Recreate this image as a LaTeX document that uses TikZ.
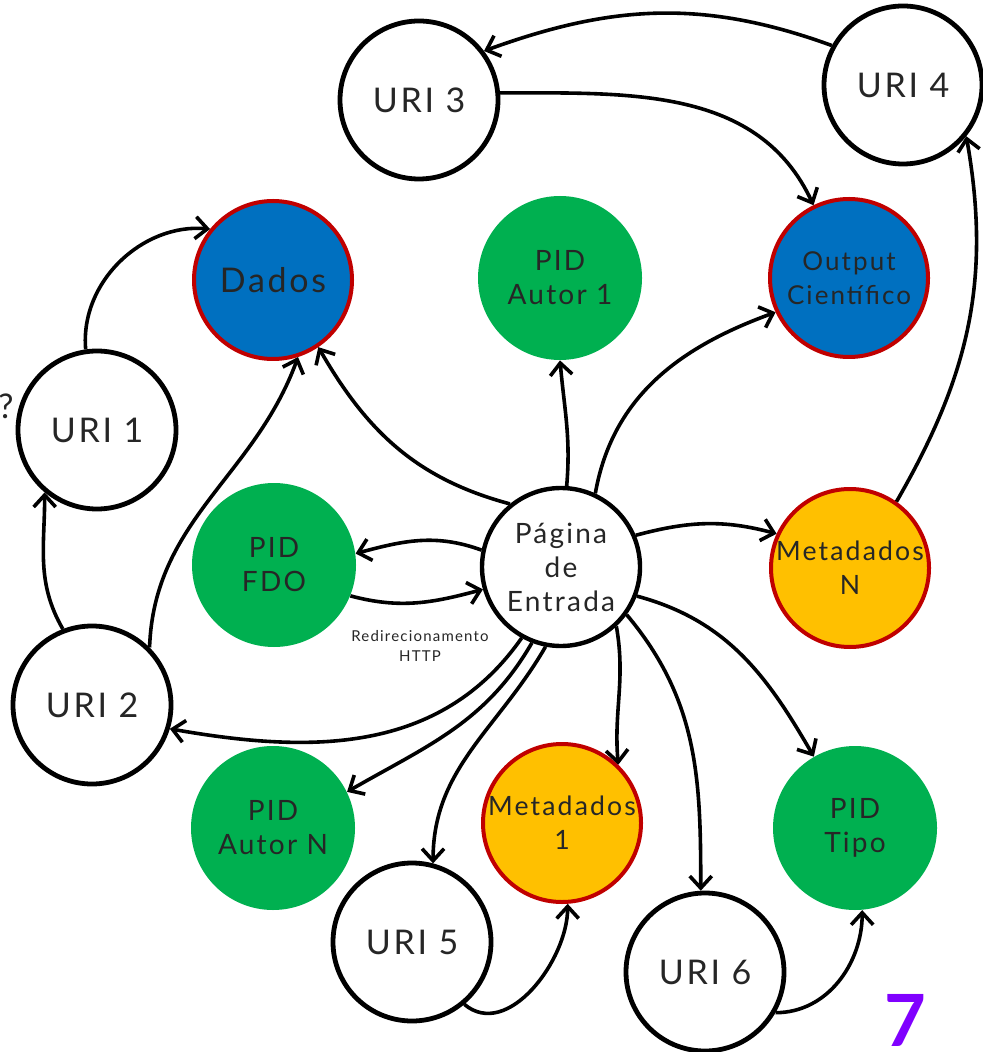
\documentclass[tikz,border=0pt]{standalone}
\usepackage{fontspec}
\setmainfont{Lato}[LetterSpace=8]
\usetikzlibrary{arrows.meta}
\definecolor{azul}{HTML}{0070C0}
\definecolor{verde}{HTML}{00B050}
\definecolor{laranja}{HTML}{FFC000}
\definecolor{borda}{HTML}{C00000}
\definecolor{texto}{HTML}{262626}
\definecolor{roxo}{HTML}{8000FF}

\begin{document}
\begin{tikzpicture}[x=0.5pt, y=-0.5pt,
    every node/.style={text=texto},
    uri/.style={circle, draw=black, line width=2.4pt, fill=white, minimum size=79pt, inner sep=-10pt, font=\fontsize{17}{20}\selectfont},
    dado/.style={circle, draw=borda, line width=2pt, fill=azul, minimum size=79pt, inner sep=-10pt, align=center},
    meta/.style={circle, draw=borda, line width=2pt, fill=laranja, minimum size=79pt, inner sep=-10pt, align=center, font=\fontsize{13.3}{17}\selectfont},
    pid/.style={circle, fill=verde, minimum size=82pt, inner sep=-10pt, align=center, font=\fontsize{14}{17}\selectfont},
    seta/.style={line width=1.8pt, -{Straight Barb[length=6pt,width=11pt]}}]
    \useasboundingbox (0,0) rectangle (982,1052);

    % URIs
    \node[uri] (uri3) at (419,100) {URI 3};
    \node[uri] (uri4) at (903,85) {URI 4};
    \node[uri] (uri1) at (97,430) {URI 1};
    \node[uri] (uri2) at (92,705) {URI 2};
    \node[uri] (uri5) at (412,942) {URI 5};
    \node[uri] (uri6) at (705,972) {URI 6};

    % dados e output
    \node[dado, font=\fontsize{17}{20}\selectfont] (dados) at (273,280) {Dados};
    \node[dado, font=\fontsize{13}{17}\selectfont] (output) at (849,278) {Output\\Científico};

    % PIDs
    \node[pid] (autor1) at (560,278) {PID\\Autor 1};
    \node[pid] (fdo) at (274,565) {PID\\FDO};
    \node[pid] (autorn) at (273,828) {PID\\Autor N};
    \node[pid] (tipo) at (855,828) {PID\\Tipo};

    % metadados
    \node[meta] (metan) at (850,568) {Metadados\\N};
    \node[meta] (meta1) at (562,823) {Metadados\\1};

    % pagina de entrada
    \node[uri, line width=2.2pt, align=center, font=\fontsize{14}{17}\selectfont] (pagina) at (561,567) {Página\\de\\Entrada};

    \node[align=center, font=\fontsize{7.5}{10}\selectfont] (redir) at (420,646) {Redirecionamento\\HTTP};
    \node[font=\fontsize{17}{20}\selectfont] (interr) at (6,406) {?};
    \node[text=roxo, inner sep=0pt, font=\fontsize{36}{38}\bfseries\selectfont] (num) at (905,1020) {7};

    % setas
    \draw[seta] (uri4.151) to[out=160,in=20] (uri3.37);
    \draw[seta] (uri3.5) to[out=0,in=115] (output.116);
    \draw[seta] (uri1.98) to[out=95,in=175] (dados.141);
    \draw[seta] (uri2.111) to[out=120,in=-90] (uri1.230);
    \draw[seta] (uri2.45) to[out=88,in=250] (dados.288);
    \draw[seta] (pagina.129) to[out=165,in=-60] (dados.304);
    \draw[seta] (pagina.86) to[out=85,in=-85] (autor1.-90);
    \draw[seta] (pagina.65) to[out=80,in=200] (output.205);
    \draw[seta] (pagina.168) to[out=160,in=15] (fdo.8);
    \draw[seta] (fdo.-22) to[out=-15,in=195] (pagina.196);
    \draw[seta] (pagina.23) to[out=15,in=165] (metan.155);
    \draw[seta] (metan.55) to[out=60,in=-80] (uri4.-39);
    \draw[seta] (pagina.241) to[out=235,in=-10] (uri2.-17);
    \draw[seta] (pagina.249) to[out=240,in=30] (autorn.26);
    \draw[seta] (pagina.259) to[out=240,in=90] (uri5.75);
    \draw[seta] (pagina.-47) to[out=-80,in=95] (meta1.46);
    \draw[seta] (pagina.-36) to[out=-50,in=90] (uri6.93);
    \draw[seta] (pagina.-21) to[out=-15,in=120] (tipo.120);
    \draw[seta] (uri5.-50) to[out=-40,in=-90] (meta1.-86);
    \draw[seta] (uri6.-30) to[out=0,in=-90] (tipo.-85);
\end{tikzpicture}
\end{document}
